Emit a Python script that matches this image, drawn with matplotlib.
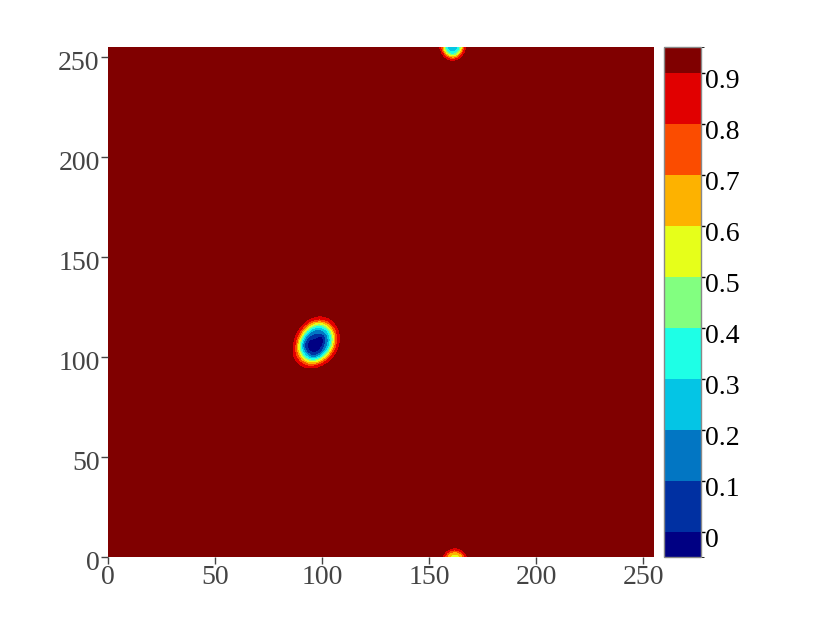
import numpy as np
import matplotlib
matplotlib.use("Agg")
import matplotlib.pyplot as plt
import matplotlib.transforms as mtransforms
from matplotlib.colors import ListedColormap, BoundaryNorm

# grid 0..255 in both directions
nx, ny = 256, 256
background = 0.95

# wells: centre x, centre y, radius x, radius y, tilt (deg), depth, sharpness
well_x = [97.5, 99.0, 93.5, 161.0, 162.0]
well_y = [107.5, 108.0, 102.5, 255.5, -1.0]
well_rx = [8.2, 2.3, 6.5, 5.0, 5.0]
well_ry = [10.2, 3.4, 7.5, 6.0, 4.6]
well_tilt = [-20.0, -20.0, -20.0, 0.0, 0.0]
well_depth = [0.88, 0.10, 0.15, 0.70, 0.38]
well_sharp = [2, 2, 2, 2, 2]

# contour levels and band colours (plotly Jet)
levels = [-0.05, 0.0, 0.1, 0.2, 0.3, 0.4, 0.5, 0.6, 0.7, 0.8, 0.9, 0.95]
band_colors = ["#000083", "#0030a2", "#0276c3", "#04c5e5", "#1effe6",
               "#82ff80", "#e6ff1a", "#fdb200", "#fb4c00", "#e10000", "#800000"]
cbar_ticks = [0, 0.1, 0.2, 0.3, 0.4, 0.5, 0.6, 0.7, 0.8, 0.9]
cbar_labels = ["0", "0.1", "0.2", "0.3", "0.4", "0.5", "0.6", "0.7", "0.8", "0.9"]
xticks = [0, 50, 100, 150, 200, 250]
yticks = [0, 50, 100, 150, 200, 250]

x = np.arange(nx)
y = np.arange(ny)
X, Y = np.meshgrid(x, y)
Z = np.full(X.shape, background)
for cx, cy, rx, ry, t, d, p in zip(well_x, well_y, well_rx, well_ry,
                                   well_tilt, well_depth, well_sharp):
    a = np.deg2rad(t)
    dx, dy = X - cx, Y - cy
    u = dx * np.cos(a) + dy * np.sin(a)
    v = -dx * np.sin(a) + dy * np.cos(a)
    r2 = (u / rx) ** 2 + (v / ry) ** 2
    Z = Z - d * np.exp(-r2 ** p)
Z = np.clip(Z, -0.049, 0.949)

cmap = ListedColormap(band_colors)
norm = BoundaryNorm(levels, cmap.N)

fig = plt.figure(figsize=(8.3, 6.24), dpi=100)
ax = fig.add_axes([108 / 830, 67 / 624, 547 / 830, 510 / 624])
cs = ax.contourf(X, Y, Z, levels=levels, cmap=cmap, norm=norm)
ax.set_xlim(0, 255.5)
ax.set_ylim(0, 255)
for s in ax.spines.values():
    s.set_visible(False)
ax.set_xticks(xticks)
ax.set_yticks(yticks)
ax.tick_params(colors="#444444", labelsize=20, length=5, width=1, pad=1)
for lab in ax.get_xticklabels() + ax.get_yticklabels():
    lab.set_family("Liberation Serif")
down_y = mtransforms.ScaledTranslation(0, -4 / 100, fig.dpi_scale_trans)
for lab in ax.get_yticklabels():
    lab.set_transform(lab.get_transform() + down_y)

cax = fig.add_axes([664 / 830, 67 / 624, 37 / 830, 510 / 624])
cb = fig.colorbar(cs, cax=cax, ticks=cbar_ticks, spacing="proportional")
cb.ax.set_yticklabels(cbar_labels)
cb.ax.tick_params(labelsize=20, length=3, width=1, colors="black", pad=0)
down_cb = mtransforms.ScaledTranslation(0, -6 / 100, fig.dpi_scale_trans)
for lab in cb.ax.get_yticklabels():
    lab.set_family("Liberation Serif")
    lab.set_transform(lab.get_transform() + down_cb)
cb.outline.set_edgecolor("#888888")
cb.outline.set_linewidth(1)

fig.savefig("out.png", dpi=100)
